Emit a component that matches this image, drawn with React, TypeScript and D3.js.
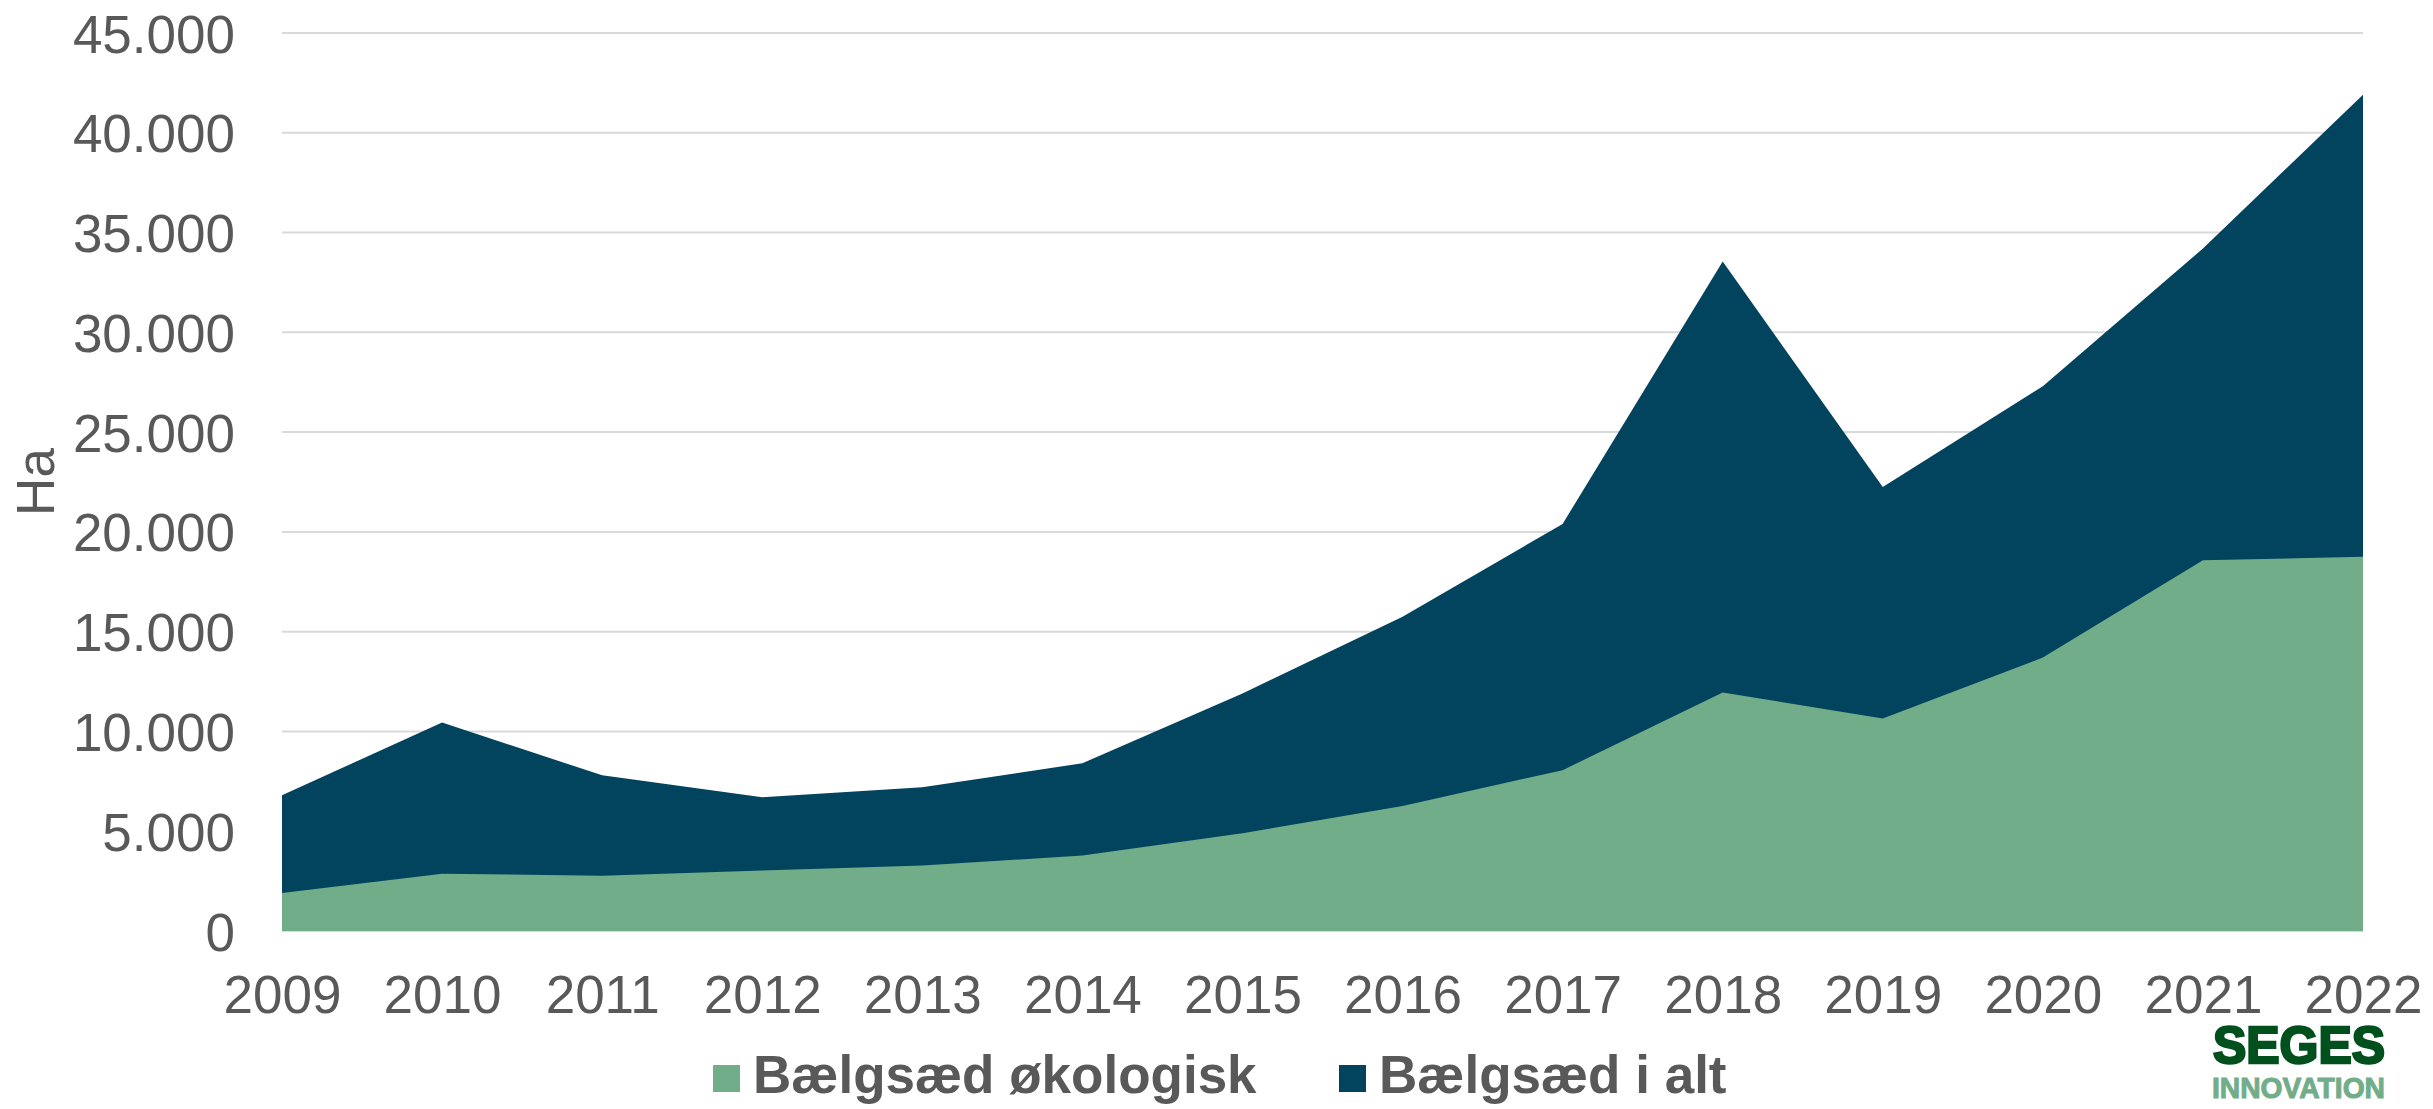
import React from 'react';
import * as d3 from 'd3';

// data
const years = [2009, 2010, 2011, 2012, 2013, 2014, 2015, 2016, 2017, 2018, 2019, 2020, 2021, 2022];
const totalHa = [6800, 10450, 7800, 6700, 7200, 8400, 11900, 15750, 20400, 33550, 22250, 27300, 34200, 41900];
const organicHa = [1900, 2870, 2770, 3030, 3280, 3780, 4900, 6270, 8060, 11950, 10650, 13700, 18580, 18750];
const yTicks = [0, 5000, 10000, 15000, 20000, 25000, 30000, 35000, 40000, 45000];
const legendLabels = ['Bælgsæd økologisk', 'Bælgsæd i alt'];

const W = 2433;
const H = 1109;
const GREEN = '#72ad8a';
const DARK = '#02435e';
const TEXT = '#595959';
const FONT = '"Liberation Sans", Arial, sans-serif';

const daLocale = d3.formatLocale({decimal: ',', thousands: '.', grouping: [3], currency: ['', ' kr.']});
const fmt = daLocale.format(',.0f');

export default function App() {
  const ref = React.useRef<SVGSVGElement>(null);

  React.useEffect(() => {
    if (!ref.current) return;
    const svg = d3.select(ref.current);
    svg.selectAll('*').remove();

    const x = d3.scaleLinear().domain([2009, 2022]).range([282, 2363]);
    const y = d3.scaleLinear().domain([0, 45000]).range([931, 33]);

    /* grid */
    svg.append('g')
      .selectAll('line')
      .data(yTicks)
      .enter()
      .append('line')
      .attr('x1', x(2009))
      .attr('x2', x(2022))
      .attr('y1', d => y(d))
      .attr('y2', d => y(d))
      .attr('stroke', '#d9d9d9')
      .attr('stroke-width', 2);

    /* areas: total behind, organic in front */
    const rows = years.map((yr, i) => ({yr, total: totalHa[i], org: organicHa[i]}));
    const totalArea = d3.area<any>().x(d => x(d.yr)).y0(y(0)).y1(d => y(d.total));
    const orgArea = d3.area<any>().x(d => x(d.yr)).y0(y(0)).y1(d => y(d.org));
    svg.append('path').datum(rows).attr('d', totalArea).attr('fill', DARK);
    svg.append('path').datum(rows).attr('d', orgArea).attr('fill', GREEN);

    /* y axis labels */
    const axisY = d3.axisLeft(y).tickValues(yTicks).tickFormat(d => fmt(d as number)).tickSize(0).tickPadding(47);
    const gy = svg.append('g').attr('transform', 'translate(282,0)').call(axisY);
    gy.select('.domain').remove();
    gy.selectAll('text')
      .attr('fill', TEXT)
      .attr('font-family', FONT)
      .attr('font-size', 53)
      .attr('dy', '0.36em');

    /* x axis labels */
    const axisX = d3.axisBottom(x).tickValues(years).tickFormat(d3.format('d')).tickSize(0).tickPadding(44);
    const gx = svg.append('g').attr('transform', `translate(0,${y(0)})`).call(axisX);
    gx.select('.domain').remove();
    gx.selectAll('text')
      .attr('fill', TEXT)
      .attr('font-family', FONT)
      .attr('font-size', 53);

    /* y title */
    svg.append('text')
      .attr('transform', 'translate(54,482) rotate(-90)')
      .attr('text-anchor', 'middle')
      .attr('fill', TEXT)
      .attr('font-family', FONT)
      .attr('font-size', 53)
      .text('Ha');

    /* legend */
    const legendX = [713, 1339];
    const colors = [GREEN, DARK];
    const lg = svg.append('g');
    legendLabels.forEach((lbl, i) => {
      lg.append('rect')
        .attr('x', legendX[i])
        .attr('y', 1065)
        .attr('width', 27)
        .attr('height', 27)
        .attr('fill', colors[i]);
      lg.append('text')
        .attr('x', legendX[i] + 40)
        .attr('y', 1093)
        .attr('fill', TEXT)
        .attr('font-family', FONT)
        .attr('font-weight', 'bold')
        .attr('font-size', 53)
        .text(lbl);
    });

    /* logo */
    svg.append('text')
      .attr('x', 2213)
      .attr('y', 1063)
      .attr('fill', '#00501e')
      .attr('stroke', '#00501e')
      .attr('stroke-width', 2.5)
      .attr('font-family', FONT)
      .attr('font-weight', 'bold')
      .attr('font-size', 51)
      .attr('textLength', 172)
      .attr('lengthAdjust', 'spacingAndGlyphs')
      .text('SEGES');
    svg.append('text')
      .attr('x', 2212)
      .attr('y', 1098)
      .attr('fill', GREEN)
      .attr('stroke', GREEN)
      .attr('stroke-width', 1)
      .attr('font-family', FONT)
      .attr('font-weight', 'bold')
      .attr('font-size', 29)
      .attr('textLength', 173)
      .attr('lengthAdjust', 'spacingAndGlyphs')
      .text('INNOVATION');
  }, []);

  return (
    <svg
      ref={ref}
      width={W}
      height={H}
      style={{position: 'absolute', left: 0, top: 0, background: '#fff'}}
    />
  );
}
